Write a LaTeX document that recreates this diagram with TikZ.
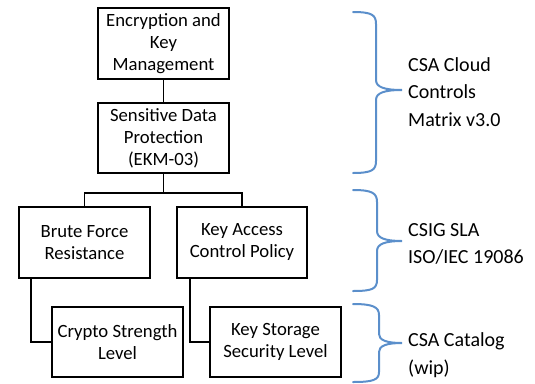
\documentclass[tikz,border=0pt]{standalone}
\usepackage{fontspec}
\setmainfont{Carlito}
\definecolor{braceblue}{HTML}{5B8FCB}
\begin{document}
\begin{tikzpicture}[x=1pt,y=-1pt,
  box/.style={draw=black,line width=1.8pt,rectangle,minimum width=131pt,minimum height=71pt,inner sep=0pt,align=center,font=\fontsize{18.7}{22}\selectfont},
  conn/.style={draw=black,line width=1.8pt},
  bracestyle/.style={draw=braceblue,line width=2pt,line cap=round},
  lbl/.style={anchor=west,align=left,inner sep=0pt,font=\fontsize{20}{27.5}\selectfont}]
\useasboundingbox (0,0) rectangle (535,383);
\node[box] (e1) at (163.5,43.5) {Encryption and\\Key\\Management};
\node[box,minimum height=70pt] (e2) at (163.5,138) {Sensitive Data\\Protection\\(EKM-03)};
\node[box] (b3) at (84.5,242.5) {Brute Force\\Resistance};
\node[box,minimum width=130pt] (b4) at (242,242.5) {Key Access\\Control Policy};
\node[box,minimum height=70pt] (b5) at (117.5,342) {Crypto Strength\\Level};
\node[box,minimum height=70pt] (b6) at (275.5,342) {Key Storage\\Security Level};
\coordinate (j) at (163.5,193);
\draw[conn] (e1.south) -- (e2.north);
\draw[conn] (e2.south) -- (j);
\draw[conn] (b3.north) |- (j) -| (b4.north);
\draw[conn] ([xshift=13pt]b3.south west) |- (b5.west);
\draw[conn] ([xshift=14pt]b4.south west) |- (b6.west);
% braces
\draw[bracestyle] (353,12) .. controls (372,12) and (376,15) .. (376,24) -- (376,80) .. controls (376,87) and (384,90) .. (402,90)
  .. controls (384,90) and (376,93) .. (376,100) -- (376,161) .. controls (376,170) and (372,173) .. (353,173);
\draw[bracestyle] (353,190) .. controls (372,190) and (377,193) .. (377,202) -- (377,231) .. controls (377,238) and (385,241) .. (402,241)
  .. controls (385,241) and (377,244) .. (377,251) -- (377,280) .. controls (377,289) and (372,291) .. (353,291);
\draw[bracestyle] (353,304) .. controls (373,304) and (379,307) .. (379,315) -- (379,334) .. controls (379,340) and (386,343) .. (402,343)
  .. controls (386,343) and (379,346) .. (379,352) -- (379,372) .. controls (379,380) and (373,382) .. (353,382);
\node[lbl] (t1) at (408,92) {CSA Cloud\\Controls\\Matrix v3.0};
\node[lbl] (t2) at (408,244) {CSIG SLA\\ISO/IEC 19086};
\node[lbl] (t3) at (408,355) {CSA Catalog\\(wip)};
\end{tikzpicture}
\end{document}
